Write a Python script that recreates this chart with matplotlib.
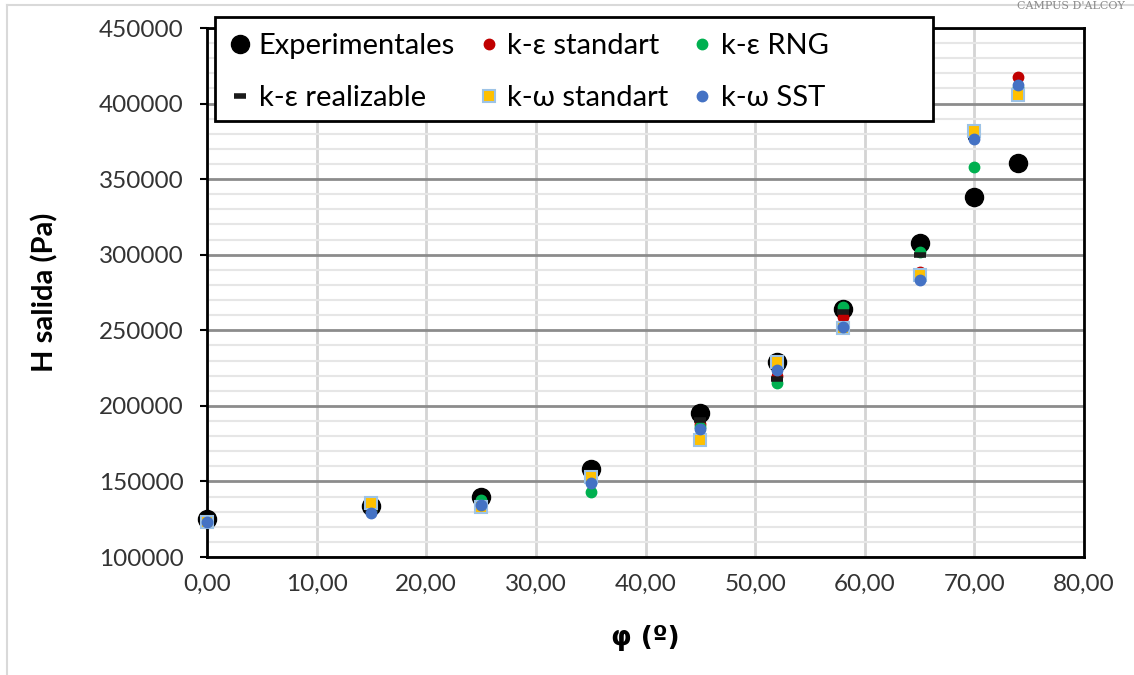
import matplotlib
matplotlib.use("Agg")
from matplotlib import pyplot as plt
from matplotlib.lines import Line2D
from matplotlib.patches import Rectangle
from matplotlib.ticker import MultipleLocator

plt.rcParams['font.family'] = ['Lato', 'DejaVu Sans']

# ángulo de apertura (º)
phi = [0, 15, 25, 35, 45, 52, 58, 65, 70, 74]

# altura de salida (Pa)
experimentales = [125000, 133500, 139500, 158500, 195000, 229000, 264000, 307500, 338500, 361000]
ke_standart = [123500, 131000, 135500, 150000, 188000, 220000, 259000, 288500, 380000, 417500]
ke_rng = [123500, 131000, 137500, 143000, 186000, 215000, 265500, 301500, 358000, 410000]
ke_realizable = [123500, 131000, 135000, 152000, 190500, 218000, 262000, 300000, 378000, 408000]
kw_standart = [123000, 135500, 133000, 153000, 177500, 229000, 251500, 286500, 382000, 405500]
kw_sst = [123000, 129000, 134500, 149000, 185000, 223500, 252500, 283500, 376500, 412000]

x_ticks = [0, 10, 20, 30, 40, 50, 60, 70, 80]
x_tick_labels = ["0,00", "10,00", "20,00", "30,00", "40,00", "50,00", "60,00", "70,00", "80,00"]
y_ticks = [100000, 150000, 200000, 250000, 300000, 350000, 400000, 450000]

W, H = 1134, 675
fig = plt.figure(figsize=(W / 100, H / 100), dpi=100)
ax = fig.add_axes([0.1825, 0.1748, 0.7735, 0.7837])

# rejilla
ax.yaxis.set_minor_locator(MultipleLocator(10000))
ax.grid(axis='y', which='minor', color='#e6e6e6', linewidth=1.5, zorder=0)
ax.grid(axis='y', which='major', color='#8c8c8c', linewidth=2, zorder=0)
ax.grid(axis='x', which='major', color='#d4d4d4', linewidth=2, zorder=0)
ax.set_axisbelow(True)

# series
h_exp, = ax.plot(phi, experimentales, 'o', color='black', markersize=13, label="Experimentales",
                 zorder=3, clip_on=False)
h_kes, = ax.plot(phi, ke_standart, 'o', color='#c00000', markersize=7.5, label="k-ε standart",
                 zorder=4, clip_on=False)
h_rng, = ax.plot(phi, ke_rng, 'o', color='#00b050', markersize=7.5, label="k-ε RNG",
                 zorder=4, clip_on=False)
h_real, = ax.plot(phi, ke_realizable, '_', color='#1a1a1a', markersize=9, markeredgewidth=4,
                  label="k-ε realizable", zorder=4, clip_on=False)
h_kws, = ax.plot(phi, kw_standart, 's', color='#ffc000', markeredgecolor='#9dc3e6', markeredgewidth=1.5,
                 markersize=8.5, label="k-ω standart", zorder=5, clip_on=False)
h_sst, = ax.plot(phi, kw_sst, 'o', color='#4472c4', markersize=7.5, label="k-ω SST",
                 zorder=6, clip_on=False)

ax.set_xlim(0, 80)
ax.set_ylim(100000, 450000)
ax.set_xticks(x_ticks)
ax.set_xticklabels(x_tick_labels)
ax.set_yticks(y_ticks)
ax.set_yticklabels([str(v) for v in y_ticks])
ax.tick_params(axis='both', which='both', labelsize=17.5, colors='#333333')
ax.tick_params(axis='x', length=0, pad=12)
ax.tick_params(axis='y', which='major', length=5, width=1.5, color='black', pad=12)
ax.tick_params(axis='y', which='minor', length=0)
for sp in ax.spines.values():
    sp.set_color('black')
    sp.set_linewidth(2)

ax.set_xlabel("φ (º)", fontsize=19, fontweight='bold', labelpad=22, family=['DejaVu Sans'])
ax.set_ylabel("H salida (Pa)", fontsize=21, fontweight='bold', labelpad=29)

# caja de la leyenda
legend_box = Rectangle((215 / W, 1 - 121 / H), 718 / W, 104 / H, transform=fig.transFigure,
                       facecolor='white', edgecolor='black', linewidth=2, zorder=9)
fig.add_artist(legend_box)

# leyenda en tres columnas (se rellena por columnas)
handles = [h_exp, h_real, h_kes, h_kws, h_rng, h_sst]
leg = fig.legend(handles=handles, labels=[h.get_label() for h in handles], ncol=3,
                 loc='upper left', bbox_to_anchor=(215 / W, 1 - 17 / H),
                 bbox_transform=fig.transFigure, fontsize=21, frameon=False,
                 handlelength=0.6, handletextpad=0.35, columnspacing=0.85,
                 borderpad=0.55, labelspacing=0.9, borderaxespad=0)
leg.set_zorder(10)

# marco exterior
fig.add_artist(Line2D([7 / W, 7 / W], [0, 1 - 5 / H], color='#d9d9d9', linewidth=1.5))
fig.add_artist(Line2D([7 / W, 1], [1 - 5 / H, 1 - 5 / H], color='#d9d9d9', linewidth=1.5))
fig.text(0.992, 1 - 1 / H, "CAMPUS D'ALCOY", ha='right', va='top', fontsize=8,
         family='DejaVu Serif', color='#8a8a8a')

fig.savefig("out.png", dpi=100, facecolor='white')
